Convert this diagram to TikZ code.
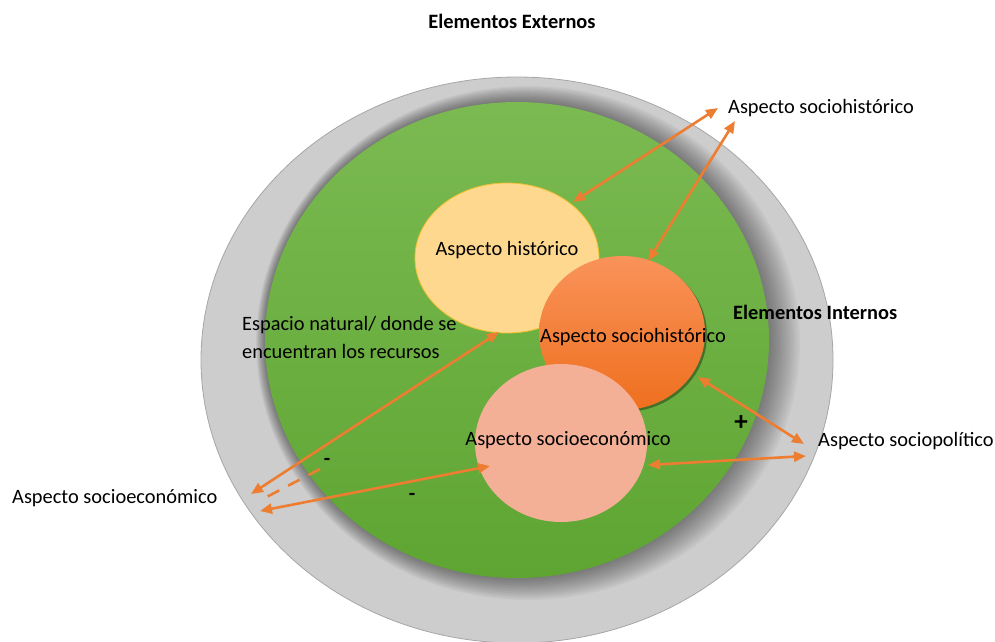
\documentclass[tikz,border=0pt]{standalone}
\usepackage{fontspec}
\setmainfont{Carlito}
\usetikzlibrary{shapes.geometric,arrows.meta}
\definecolor{grayout}{HTML}{CDCDCD}
\definecolor{grayline}{HTML}{A6A6A6}
\definecolor{greentop}{HTML}{7BBA52}
\definecolor{greenbot}{HTML}{5EA532}
\definecolor{yel}{HTML}{FED88F}
\definecolor{yelline}{HTML}{F2C12E}
\definecolor{orgtop}{HTML}{F9935A}
\definecolor{orgbot}{HTML}{EF6F1E}
\definecolor{pink}{HTML}{F4B097}
\definecolor{arr}{HTML}{ED7D31}
\begin{document}
\begin{tikzpicture}[x=1pt,y=-1pt,
  lbl/.style={inner sep=0pt, font=\fontsize{20.4}{24}\selectfont},
  bold/.style={inner sep=0pt, font=\fontsize{20.4}{24}\selectfont\bfseries},
  sign/.style={inner sep=0pt, font=\fontsize{21}{24}\selectfont\bfseries},
  blob/.style={ellipse, inner sep=0pt},
  link/.style={draw=arr, line width=2.6pt, {Triangle[length=12pt,width=10pt]}-{Triangle[length=12pt,width=10pt]}}
]
\useasboundingbox (0,0) rectangle (995,641);
\begin{scope}
\clip (0,0) rectangle (995,641);
\node[blob, fill=grayout, draw=grayline, line width=0.8pt, minimum width=632pt, minimum height=566pt] (outer) at (517,360) {};
% soft stippled shadow around the green area
\foreach \i in {0,...,13}{
  \pgfmathsetmacro{\cx}{517+11*\i/13}
  \pgfmathsetmacro{\cy}{340+3*\i/13}
  \pgfmathsetmacro{\rx}{252+20*\i/13}
  \pgfmathsetmacro{\ry}{238+19*\i/13}
  \fill[black, opacity=0.035] (\cx,\cy) ellipse [x radius=\rx pt, y radius=\ry pt];
}
\end{scope}
\node[blob, top color=greentop, bottom color=greenbot, minimum width=504pt, minimum height=476pt] (green) at (517,340) {};
\node[blob, fill=yel, draw=yelline, line width=0.8pt, minimum width=184pt, minimum height=150pt] (hist) at (507,258) {};
\fill[black, opacity=0.35] (624,335) ellipse [x radius=83pt, y radius=77pt];
\node[blob, top color=orgtop, bottom color=orgbot, minimum width=166pt, minimum height=154pt] (sohist) at (622,333) {};
\node[blob, fill=pink, minimum width=172pt, minimum height=158pt] (soeco) at (561,443) {};

\node[lbl] (thist) at (507,250) {Aspecto histórico};
\node[lbl] (tsohist) at (633,337) {Aspecto sociohistórico};
\node[lbl] (tsoeco) at (568,440) {Aspecto socioeconómico};

\node[bold] (ext) at (512,21) {Elementos Externos};
\node[bold, anchor=west] (int) at (733,312) {Elementos Internos};
\node[lbl, anchor=west] (lsohist) at (728,108) {Aspecto sociohistórico};
\node[lbl, anchor=west] (lsopol) at (818,441) {Aspecto sociopolítico};
\node[lbl, anchor=west] (lsoeco) at (12,498) {Aspecto socioeconómico};
\node[lbl, anchor=west] (esp1) at (242,325) {Espacio natural/ donde se};
\node[lbl, anchor=west] (esp2) at (242,351) {encuentran los recursos};

\node[sign, font=\fontsize{27}{28}\selectfont\bfseries] (plus) at (741,423) {+};
\node[sign] (m1) at (327,462) {-};
\node[sign] (m2) at (412,497) {-};

\coordinate (a1) at (718,108);
\coordinate (b1) at (573,202);
\coordinate (a2) at (735,121);
\coordinate (b2) at (648,261);
\coordinate (a3) at (698,377);
\coordinate (b3) at (804,444);
\coordinate (a4) at (648,465);
\coordinate (b4) at (806,456);
\coordinate (a5) at (499,332);
\coordinate (b5) at (251,494);
\coordinate (a6) at (490,466);
\coordinate (b6) at (260,511);
\coordinate (d1) at (320,469);
\coordinate (d2) at (259,501);

\draw[link] (a1) -- (b1);
\draw[link] (a2) -- (b2);
\draw[link] (a3) -- (b3);
\draw[link] (a4) -- (b4);
\draw[link] (a5) -- (b5);
\draw[link] (a6) -- (b6);
\draw[draw=arr, line width=2.6pt, dash pattern=on 13pt off 10pt] (d1) -- (d2);
\end{tikzpicture}
\end{document}
